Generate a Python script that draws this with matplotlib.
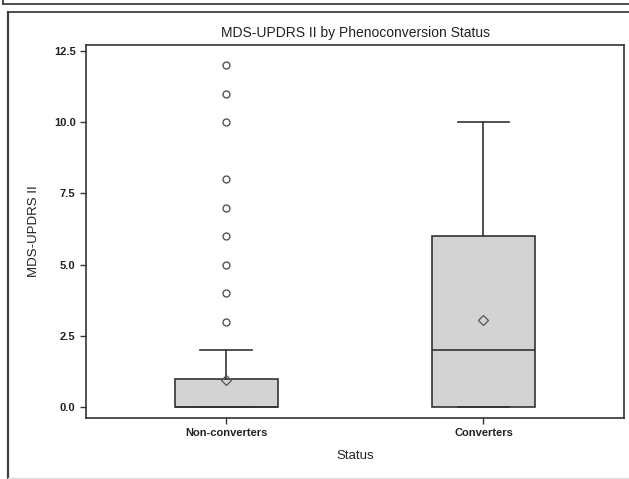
import matplotlib
matplotlib.use("Agg")
from matplotlib import pyplot as plt
from matplotlib.lines import Line2D

plt.rcParams['font.family'] = ['Liberation Sans', 'DejaVu Sans']

# box statistics
groups = ["Non-converters", "Converters"]
q1 = [0, 0]
median = [0, 2]
q3 = [1, 6]
whisker_low = [0, 0]
whisker_high = [2, 10]
means = [0.95, 3.05]
outliers = [[3, 4, 5, 6, 7, 8, 10, 11, 12], []]
yticks = [0.0, 2.5, 5.0, 7.5, 10.0, 12.5]

fig = plt.figure(figsize=(6.29, 4.79), dpi=100)
W, H = 629, 479


def fx(x):
    return x / W


def fy(y):
    return 1 - y / H


edge = "#404040"
# outer panel frames (screenshot borders)
fig.add_artist(Line2D([fx(3), 1], [fy(4)] * 2, transform=fig.transFigure, color=edge, lw=1.3))
fig.add_artist(Line2D([fx(3)] * 2, [1, fy(4)], transform=fig.transFigure, color=edge, lw=1.3))
fig.add_artist(Line2D([fx(8), 1], [fy(12)] * 2, transform=fig.transFigure, color=edge, lw=1.3))
fig.add_artist(Line2D([fx(8)] * 2, [fy(12), 0], transform=fig.transFigure, color=edge, lw=1.6))
fig.add_artist(Line2D([fx(8), 1], [fy(478)] * 2, transform=fig.transFigure, color="#dddddd", lw=1))

ax = fig.add_axes([fx(86), fy(418), (624 - 86) / W, (418 - 45) / H])

stats = []
for i, g in enumerate(groups):
    stats.append(dict(label=g, q1=q1[i], med=median[i], q3=q3[i],
                      whislo=whisker_low[i], whishi=whisker_high[i],
                      mean=means[i], fliers=outliers[i]))

line_c = "#333333"
ax.bxp(stats, positions=[1, 2], widths=0.4, patch_artist=True,
       showmeans=True, showfliers=True,
       boxprops=dict(facecolor="#d3d3d3", edgecolor=line_c, lw=1.2),
       medianprops=dict(color=line_c, lw=1.2),
       whiskerprops=dict(color=line_c, lw=1.2),
       capprops=dict(color=line_c, lw=1.2),
       capwidths=0.2,
       meanprops=dict(marker="D", markerfacecolor="none", markeredgecolor="#555555",
                      markersize=5, markeredgewidth=0.9),
       flierprops=dict(marker="o", markerfacecolor="none", markeredgecolor="#555555",
                       markersize=5, markeredgewidth=1.0))

ax.set_xlim(0.456, 2.546)
ax.set_ylim(-0.37, 12.7)
ax.set_yticks(yticks)
ax.set_yticklabels([f"{v:.1f}" for v in yticks])
ax.set_xticks([1, 2])
ax.set_xticklabels(groups)
ax.tick_params(axis="both", direction="out", length=4, width=1, color=line_c,
               labelsize=8, labelcolor="#222222")
for lbl in ax.get_xticklabels() + ax.get_yticklabels():
    lbl.set_fontweight("bold")
for s in ax.spines.values():
    s.set_color(line_c)
    s.set_linewidth(1.2)

ax.set_title("MDS-UPDRS II by Phenoconversion Status", fontsize=10, color="#222222", pad=6)
ax.set_xlabel("Status", fontsize=9.5, color="#222222", labelpad=8)
ax.set_ylabel("MDS-UPDRS II", fontsize=9.5, color="#222222", labelpad=10)

fig.savefig("out.png", dpi=100)
